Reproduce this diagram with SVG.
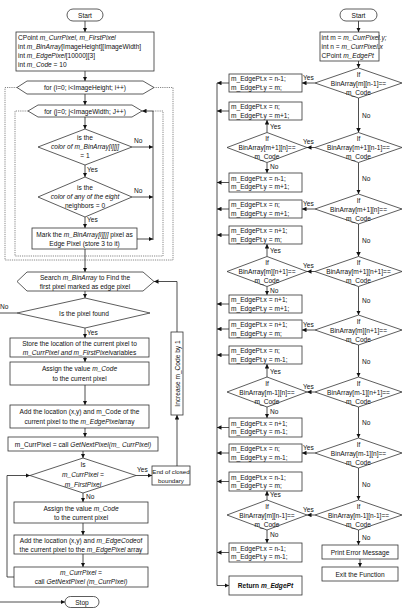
<svg xmlns="http://www.w3.org/2000/svg" width="407" height="608" viewBox="0 0 407 608">
<style>
.b{fill:#fff;stroke:#333;stroke-width:0.8}
.t{font-family:"Liberation Sans",Arial,sans-serif;font-size:6.6px;fill:#111}
.c{text-anchor:middle}
.i{font-style:italic}
.w{font-weight:bold}
.s{font-size:6.2px}
.l{stroke:#222;stroke-width:0.8;fill:none}
.d{stroke:#555;stroke-width:0.7;stroke-dasharray:1.2 1;fill:none}
</style>
<defs>
<marker id="a" viewBox="0 0 6 6" refX="6" refY="3" markerWidth="4.5" markerHeight="4.5" orient="auto" markerUnits="userSpaceOnUse"><path d="M0,0L6,3L0,6z" fill="#111"/></marker>
</defs>
<rect width="407" height="608" fill="#fff"/>

<g id="connectors">
<path class="l" d="M85,21V32" marker-end="url(#a)"/>
<path class="l" d="M85,71V81" marker-end="url(#a)"/>
<path class="d" d="M17,87.5H5V260H173V87.5H154"/>
<path class="l" d="M85,94V105" marker-end="url(#a)"/>
<path class="d" d="M28,111H15V256H163V111H153"/>
<path class="l" d="M85,117V129" marker-end="url(#a)"/>
<path class="l" d="M132,147H153" marker-end="url(#a)"/>
<path class="l" d="M85,165V177" marker-end="url(#a)"/>
<path class="l" d="M132,197H153" marker-end="url(#a)"/>
<path class="l" d="M85,217V228" marker-end="url(#a)"/>
<path class="l" d="M137,239H153" marker-end="url(#a)"/>
<path class="l" d="M153,240V111H142" marker-end="url(#a)"/>
<path class="l" d="M85,249V272" marker-end="url(#a)"/>
<path class="l" d="M85,291V298" marker-end="url(#a)"/>
<path class="l" d="M17,313H0"/>
<path class="l" d="M85,328V338" marker-end="url(#a)"/>
<path class="l" d="M85,357V362" marker-end="url(#a)"/>
<path class="l" d="M85,385V405" marker-end="url(#a)"/>
<path class="l" d="M85,428V437" marker-end="url(#a)"/>
<path class="l" d="M83,451V458" marker-end="url(#a)"/>
<path class="l" d="M136,475.5H152" marker-end="url(#a)"/>
<path class="l" d="M177,466V415" marker-end="url(#a)"/>
<path class="l" d="M177,332V281.5H154" marker-end="url(#a)"/>
<path class="l" d="M83,493V502" marker-end="url(#a)"/>
<path class="l" d="M83,523V535" marker-end="url(#a)"/>
<path class="l" d="M83,554V567" marker-end="url(#a)"/>
<path class="l" d="M14,577H7V475.5H30" marker-end="url(#a)"/>
<path class="l" d="M0,602H65" marker-end="url(#a)"/>
<path class="l" d="M358.5,21V32" marker-end="url(#a)"/>
<path class="l" d="M358.5,61V68" marker-end="url(#a)"/>
<path class="l" d="M358.5,98V132.5" marker-end="url(#a)"/>
<path class="l" d="M358.5,162.5V194" marker-end="url(#a)"/>
<path class="l" d="M358.5,224V256.5" marker-end="url(#a)"/>
<path class="l" d="M358.5,286.5V315" marker-end="url(#a)"/>
<path class="l" d="M358.5,345V377" marker-end="url(#a)"/>
<path class="l" d="M358.5,407V438" marker-end="url(#a)"/>
<path class="l" d="M358.5,468V500" marker-end="url(#a)"/>
<path class="l" d="M358.5,530V545" marker-end="url(#a)"/>
<path class="l" d="M360,559V567" marker-end="url(#a)"/>
<path class="l" d="M315,83H302" marker-end="url(#a)"/>
<path class="l" d="M315,147.5H307" marker-end="url(#a)"/>
<path class="l" d="M315,209H302" marker-end="url(#a)"/>
<path class="l" d="M315,271.5H307" marker-end="url(#a)"/>
<path class="l" d="M315,330H302" marker-end="url(#a)"/>
<path class="l" d="M315,392H307" marker-end="url(#a)"/>
<path class="l" d="M315,453H302" marker-end="url(#a)"/>
<path class="l" d="M315,515H307" marker-end="url(#a)"/>
<path class="l" d="M267,132.5V120" marker-end="url(#a)"/>
<path class="l" d="M267,162.5V173" marker-end="url(#a)"/>
<path class="l" d="M267,256.5V244" marker-end="url(#a)"/>
<path class="l" d="M267,286.5V295" marker-end="url(#a)"/>
<path class="l" d="M267,377V364" marker-end="url(#a)"/>
<path class="l" d="M267,407V418" marker-end="url(#a)"/>
<path class="l" d="M267,500V491" marker-end="url(#a)"/>
<path class="l" d="M267,530V543" marker-end="url(#a)"/>
<path class="l" d="M217,83V585.5H229" marker-end="url(#a)"/>
<path class="l" d="M229,83H217" marker-end="url(#a)"/>
<path class="l" d="M229,111H217" marker-end="url(#a)"/>
<path class="l" d="M229,182.5H217" marker-end="url(#a)"/>
<path class="l" d="M229,209H217" marker-end="url(#a)"/>
<path class="l" d="M229,235H217" marker-end="url(#a)"/>
<path class="l" d="M229,304H217" marker-end="url(#a)"/>
<path class="l" d="M229,329H217" marker-end="url(#a)"/>
<path class="l" d="M229,355H217" marker-end="url(#a)"/>
<path class="l" d="M229,427.5H217" marker-end="url(#a)"/>
<path class="l" d="M229,453H217" marker-end="url(#a)"/>
<path class="l" d="M229,481.5H217" marker-end="url(#a)"/>
<path class="l" d="M229,552.5H217" marker-end="url(#a)"/>
<text class="t" x="134" y="143">No</text>
<text class="t" x="87" y="172">Yes</text>
<text class="t" x="134" y="193">No</text>
<text class="t" x="87" y="222">Yes</text>
<text class="t" x="0" y="309">No</text>
<text class="t" x="87" y="335">Yes</text>
<text class="t" x="137" y="472">Yes</text>
<text class="t" x="86" y="499">No</text>
<text class="t" x="362" y="118">No</text>
<text class="t" x="362" y="181">No</text>
<text class="t" x="362" y="243">No</text>
<text class="t" x="362" y="303">No</text>
<text class="t" x="362" y="364">No</text>
<text class="t" x="362" y="425">No</text>
<text class="t" x="362" y="487">No</text>
<text class="t" x="362" y="540">No</text>
<text class="t" x="303" y="80">Yes</text>
<text class="t" x="303" y="144">Yes</text>
<text class="t" x="303" y="206">Yes</text>
<text class="t" x="303" y="268">Yes</text>
<text class="t" x="303" y="327">Yes</text>
<text class="t" x="303" y="389">Yes</text>
<text class="t" x="303" y="450">Yes</text>
<text class="t" x="303" y="512">Yes</text>
<text class="t" x="270" y="129">Yes</text>
<text class="t" x="270" y="169">No</text>
<text class="t" x="270" y="253">Yes</text>
<text class="t" x="270" y="293">No</text>
<text class="t" x="270" y="374">Yes</text>
<text class="t" x="270" y="414">No</text>
<text class="t" x="270" y="497">Yes</text>
<text class="t" x="270" y="537">No</text>
</g>

<g id="start1"><rect class="b" x="67" y="9" width="36" height="12" rx="6"/><text class="t c" x="85" y="17.5">Start</text></g>
<g id="init1"><rect class="b" x="16" y="32" width="138" height="39"/>
<text class="t" x="18" y="40">CPoint <tspan class="i">m_CurrPixel, m_FirstPixel</tspan></text>
<text class="t" x="18" y="49">int <tspan class="i">m_BinArray</tspan>[ImageHeight][ImageWidth]</text>
<text class="t" x="18" y="58">int <tspan class="i">m_EdgePixel</tspan>[10000][3]</text>
<text class="t" x="18" y="67">int <tspan class="i">m_Code</tspan> = 10</text></g>
<g id="forI"><polygon class="b" points="17,87.5 27,81 143,81 154,87.5 143,94 27,94"/><text class="t c" x="85" y="90">for (i=0; i&lt;ImageHeight; i++)</text></g>
<g id="forJ"><polygon class="b" points="28,111 38,105 132,105 142,111 132,117 38,117"/><text class="t c" x="85" y="113.5">for (j=0; j&lt;ImageWidth; J++)</text></g>
<g id="isColor1"><polygon class="b" points="38,147 85,129 132,147 85,165"/>
<text class="t c" x="85" y="140">is the</text>
<text class="t c i" x="85" y="149">color of m_BinArray[i][j]</text>
<text class="t c" x="85" y="158">= 1</text></g>
<g id="isColor0"><polygon class="b" points="38,197 85,177 132,197 85,217"/>
<text class="t c" x="85" y="190">is the</text>
<text class="t c i" x="85" y="199">color of any of the eight</text>
<text class="t c" x="85" y="208">neighbors = 0</text></g>
<g id="mark"><rect class="b" x="32" y="228" width="105" height="21"/>
<text class="t c" x="84.5" y="236.5">Mark the <tspan class="i">m_BinArray[i][j]</tspan> pixel as</text>
<text class="t c" x="84.5" y="246">Edge Pixel (store 3 to it)</text></g>
<g id="search"><polygon class="b" points="17,281.5 27,272 143,272 154,281.5 143,291 27,291"/>
<text class="t c" x="85" y="280">Search <tspan class="i">m_BinArray</tspan> to Find the</text>
<text class="t c" x="85" y="289">first pixel marked as edge pixel</text></g>
<g id="found"><polygon class="b" points="17,313 85,298 150,313 85,328"/><text class="t c" x="84" y="315.5">Is the pixel found</text></g>
<g id="store"><rect class="b" x="10" y="338" width="139" height="19"/>
<text class="t c" x="79.5" y="346">Store the location of the current pixel to</text>
<text class="t c" x="79.5" y="355"><tspan class="i">m_CurrPixel and m_FirstPixel</tspan>variables</text></g>
<g id="assign1"><rect class="b" x="10" y="362" width="139" height="23"/>
<text class="t c" x="79.5" y="371">Assign the value <tspan class="i">m_Code</tspan></text>
<text class="t c" x="79.5" y="381">to the current pixel</text></g>
<g id="add1"><rect class="b" x="10" y="405" width="139" height="23"/>
<text class="t c" x="79.5" y="414">Add the location (x,y) and m_Code of the</text>
<text class="t c" x="79.5" y="424">current pixel to the <tspan class="i">m_EdgePixel</tspan>array</text></g>
<g id="next1"><rect class="b" x="8" y="437" width="150" height="14"/>
<text class="t c" x="83" y="446.5">m_CurrPixel = call <tspan class="i">GetNextPixel(m_ CurrPixel)</tspan></text></g>
<g id="isFirst"><polygon class="b" points="30,475.5 83,458 136,475.5 83,493"/>
<text class="t c" x="83" y="467">Is</text>
<text class="t c i" x="83" y="477">m_CurrPixel =</text>
<text class="t c i" x="83" y="487">m_FirstPixel</text></g>
<g id="endClosed"><rect class="b" x="152" y="466" width="38" height="19"/>
<text class="t c s" x="171" y="474">End of closed</text>
<text class="t c s" x="171" y="482.5">boundary</text></g>
<g id="increase"><rect class="b" x="171" y="332" width="12" height="83"/>
<text class="t c" transform="translate(179.5,373.5) rotate(-90)">Increase m_Code by 1</text></g>
<g id="assign2"><rect class="b" x="14" y="502" width="134" height="21"/>
<text class="t c" x="81" y="511">Assign the value <tspan class="i">m_Code</tspan></text>
<text class="t c" x="81" y="520">to the current pixel</text></g>
<g id="add2"><rect class="b" x="14" y="535" width="134" height="19"/>
<text class="t c" x="81" y="543">Add the location (x,y) and <tspan class="i">m_EdgeCode</tspan>of</text>
<text class="t c" x="81" y="552">the current pixel to the <tspan class="i">m_EdgePixel</tspan> array</text></g>
<g id="next2"><rect class="b" x="14" y="567" width="134" height="20"/>
<text class="t c i" x="81" y="575">m_CurrPixel =</text>
<text class="t c" x="81" y="584">call <tspan class="i">GetNextPixel (m_CurrPixel)</tspan></text></g>
<g id="stop"><rect class="b" x="65" y="596.5" width="34" height="11" rx="5.5"/><text class="t c" x="82" y="604.5">Stop</text></g>

<g id="start2"><rect class="b" x="340" y="9" width="37" height="12" rx="6"/><text class="t c" x="358.5" y="17.5">Start</text></g>
<g id="init2"><rect class="b" x="320" y="32" width="59" height="29"/>
<text class="t" x="321.5" y="39.5">int m = <tspan class="i">m_CurrPixel.y;</tspan></text>
<text class="t" x="321.5" y="48.5">int n  = <tspan class="i">m_CurrPixel.x</tspan></text>
<text class="t" x="321.5" y="57.5">CPoint <tspan class="i">m_EdgePt</tspan></text></g>

<g id="r1"><polygon class="b" points="315,83 358.5,68 402,83 358.5,98"/><text class="t c" x="358.5" y="76.5">If</text><text class="t c" x="358.5" y="85.5">BinArray[m][n-1]==</text><text class="t c" x="358.5" y="94.5">m_Code</text></g>
<g id="r2"><polygon class="b" points="315,147.5 358.5,132.5 402,147.5 358.5,162.5"/><text class="t c" x="358.5" y="141">If</text><text class="t c" x="358.5" y="150">BinArray[m+1][n-1]==</text><text class="t c" x="358.5" y="159">m_Code</text></g>
<g id="r3"><polygon class="b" points="315,209 358.5,194 402,209 358.5,224"/><text class="t c" x="358.5" y="202.5">If</text><text class="t c" x="358.5" y="211.5">BinArray[m+1][n]==</text><text class="t c" x="358.5" y="220.5">m_Code</text></g>
<g id="r4"><polygon class="b" points="315,271.5 358.5,256.5 402,271.5 358.5,286.5"/><text class="t c" x="358.5" y="265">If</text><text class="t c" x="358.5" y="274">BinArray[m+1][n+1]==</text><text class="t c" x="358.5" y="283">m_Code</text></g>
<g id="r5"><polygon class="b" points="315,330 358.5,315 402,330 358.5,345"/><text class="t c" x="358.5" y="323.5">If</text><text class="t c" x="358.5" y="332.5">BinArray[m][n+1]==</text><text class="t c" x="358.5" y="341.5">m_Code</text></g>
<g id="r6"><polygon class="b" points="315,392 358.5,377 402,392 358.5,407"/><text class="t c" x="358.5" y="385.5">If</text><text class="t c" x="358.5" y="394.5">BinArray[m-1][n+1]==</text><text class="t c" x="358.5" y="403.5">m_Code</text></g>
<g id="r7"><polygon class="b" points="315,453 358.5,438 402,453 358.5,468"/><text class="t c" x="358.5" y="446.5">If</text><text class="t c" x="358.5" y="455.5">BinArray[m-1][n]==</text><text class="t c" x="358.5" y="464.5">m_Code</text></g>
<g id="r8"><polygon class="b" points="315,515 358.5,500 402,515 358.5,530"/><text class="t c" x="358.5" y="508.5">If</text><text class="t c" x="358.5" y="517.5">BinArray[m-1][n-1]==</text><text class="t c" x="358.5" y="526.5">m_Code</text></g>

<g id="l2"><polygon class="b" points="227,147.5 267,132.5 307,147.5 267,162.5"/><text class="t c" x="267" y="141">If</text><text class="t c" x="267" y="150">BinArray[m+1][n]==</text><text class="t c" x="267" y="159">m_Code</text></g>
<g id="l4"><polygon class="b" points="227,271.5 267,256.5 307,271.5 267,286.5"/><text class="t c" x="267" y="265">If</text><text class="t c" x="267" y="274">BinArray[m][n+1]==</text><text class="t c" x="267" y="283">m_Code</text></g>
<g id="l6"><polygon class="b" points="227,392 267,377 307,392 267,407"/><text class="t c" x="267" y="385.5">If</text><text class="t c" x="267" y="394.5">BinArray[m-1][n]==</text><text class="t c" x="267" y="403.5">m_Code</text></g>
<g id="l8"><polygon class="b" points="227,515 267,500 307,515 267,530"/><text class="t c" x="267" y="508.5">If</text><text class="t c" x="267" y="517.5">BinArray[m][n-1]==</text><text class="t c" x="267" y="526.5">m_Code</text></g>

<g id="a1"><rect class="b" x="229" y="74" width="73" height="18"/><text class="t" x="231" y="81">m_EdgePt.x = n-1;</text><text class="t" x="231" y="89.5">m_EdgePt.y = m;</text></g>
<g id="a2"><rect class="b" x="229" y="102" width="73" height="18"/><text class="t" x="231" y="109">m_EdgePt.x = n;</text><text class="t" x="231" y="117.5">m_EdgePt.y = m+1;</text></g>
<g id="a3"><rect class="b" x="229" y="173" width="73" height="19"/><text class="t" x="231" y="180.5">m_EdgePt.x = n-1;</text><text class="t" x="231" y="189">m_EdgePt.y = m+1;</text></g>
<g id="a4"><rect class="b" x="229" y="200" width="73" height="18"/><text class="t" x="231" y="207">m_EdgePt.x = n;</text><text class="t" x="231" y="215.5">m_EdgePt.y = m+1;</text></g>
<g id="a5"><rect class="b" x="229" y="226" width="73" height="18"/><text class="t" x="231" y="233">m_EdgePt.x = n+1;</text><text class="t" x="231" y="241.5">m_EdgePt.y = m;</text></g>
<g id="a6"><rect class="b" x="229" y="295" width="73" height="18"/><text class="t" x="231" y="302">m_EdgePt.x = n+1;</text><text class="t" x="231" y="310.5">m_EdgePt.y = m+1;</text></g>
<g id="a7"><rect class="b" x="229" y="320" width="73" height="18"/><text class="t" x="231" y="327">m_EdgePt.x = n+1;</text><text class="t" x="231" y="335.5">m_EdgePt.y = m;</text></g>
<g id="a8"><rect class="b" x="229" y="346" width="73" height="18"/><text class="t" x="231" y="353">m_EdgePt.x = n;</text><text class="t" x="231" y="361.5">m_EdgePt.y = m-1;</text></g>
<g id="a9"><rect class="b" x="229" y="418" width="73" height="19"/><text class="t" x="231" y="425.5">m_EdgePt.x = n+1;</text><text class="t" x="231" y="434">m_EdgePt.y = m-1;</text></g>
<g id="a10"><rect class="b" x="229" y="444" width="73" height="18"/><text class="t" x="231" y="451">m_EdgePt.x = n;</text><text class="t" x="231" y="459.5">m_EdgePt.y = m-1;</text></g>
<g id="a11"><rect class="b" x="229" y="472" width="73" height="19"/><text class="t" x="231" y="479.5">m_EdgePt.x = n-1;</text><text class="t" x="231" y="488">m_EdgePt.y = m;</text></g>
<g id="a12"><rect class="b" x="229" y="543" width="73" height="19"/><text class="t" x="231" y="550.5">m_EdgePt.x = n-1;</text><text class="t" x="231" y="559">m_EdgePt.y = m-1;</text></g>
<g id="ret"><rect class="b" x="229" y="576" width="73" height="19"/><text class="t c w" x="265.5" y="588">Return <tspan class="i">m_EdgePt</tspan></text></g>
<g id="printErr"><rect class="b" x="322" y="545" width="76" height="14"/><text class="t c" x="360" y="554.5">Print Error Message</text></g>
<g id="exitFn"><rect class="b" x="322" y="567" width="76" height="14"/><text class="t c" x="360" y="576.5">Exit the Function</text></g>
</svg>
